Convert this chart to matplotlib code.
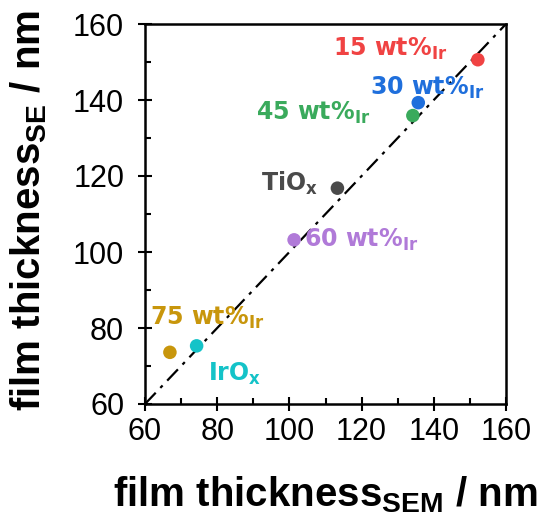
import matplotlib
matplotlib.use("Agg")
import matplotlib.pyplot as plt
import numpy as np

plt.rcParams['mathtext.fontset'] = 'custom'
plt.rcParams['mathtext.rm'] = 'Liberation Sans:bold'
plt.rcParams['mathtext.bf'] = 'DejaVu Sans:bold'

labels = ['15 wt%', '30 wt%', '45 wt%', 'TiO', '60 wt%', 'IrO', '75 wt%']
subs = ['Ir', 'Ir', 'Ir', 'x', 'Ir', 'x', 'Ir']
sem = [152.2, 135.7, 134.2, 113.3, 101.3, 74.3, 66.9]
se = [150.6, 139.3, 135.9, 116.8, 103.2, 75.3, 73.6]
colors = ['#f04343', '#1f6fdc', '#3aaa5c', '#4a4a4a', '#b07ad8', '#14c3c8', '#c8960c']
# label placement (left edge, baseline) in data units -- layout only
label_pos = [(112.1, 151.7), (122.3, 141.3), (90.7, 134.9), (92.1, 116.1),
             (104.0, 101.4), (77.5, 66.0), (61.4, 80.8)]

fig = plt.figure(figsize=(5.43, 5.25), dpi=100)
ax = fig.add_axes([145/543, 1-404/525, 361/543, 380/525])

line = np.array([60, 160])
ax.plot(line, line, color='black', lw=1.6, ls=(0, (7, 3, 1.5, 3)), zorder=1)
ax.scatter(sem, se, s=95, c=colors, zorder=2, edgecolors='none')

for lab, sub, c, (lx, ly) in zip(labels, subs, colors, label_pos):
    txt = lab + r'$_{\mathbf{' + sub + '}}$'
    ax.text(lx, ly, txt, color=c, fontsize=17, fontweight='bold',
            family='DejaVu Sans', ha='left', va='baseline', zorder=3)

ax.set_xlim(60, 160)
ax.set_ylim(60, 160)
ax.set_xticks([60, 80, 100, 120, 140, 160])
ax.set_yticks([60, 80, 100, 120, 140, 160])
ax.set_xticks([70, 90, 110, 130, 150], minor=True)
ax.set_yticks([70, 90, 110, 130, 150], minor=True)
ax.tick_params(which='major', direction='inout', length=10, width=1.5,
               labelsize=22)
ax.tick_params(axis='y', which='major', pad=10)
ax.tick_params(axis='x', which='major', pad=4)
ax.tick_params(which='minor', direction='in', length=4, width=1.5)
for lbl in ax.get_xticklabels() + ax.get_yticklabels():
    lbl.set_family('Liberation Sans')
for sp in ax.spines.values():
    sp.set_linewidth(1.8)

ax.set_xlabel(r'film thickness$_{\mathrm{SEM}}$ / nm', fontsize=29,
              fontweight='bold', family='Liberation Sans')
ax.set_ylabel(r'film thickness$_{\mathrm{SE}}$ / nm', fontsize=29,
              fontweight='bold', family='Liberation Sans')
ax.xaxis.set_label_coords(0.5, -0.185)
ax.yaxis.set_label_coords(-0.265, 0.51)

fig.savefig('out.png', dpi=100)
